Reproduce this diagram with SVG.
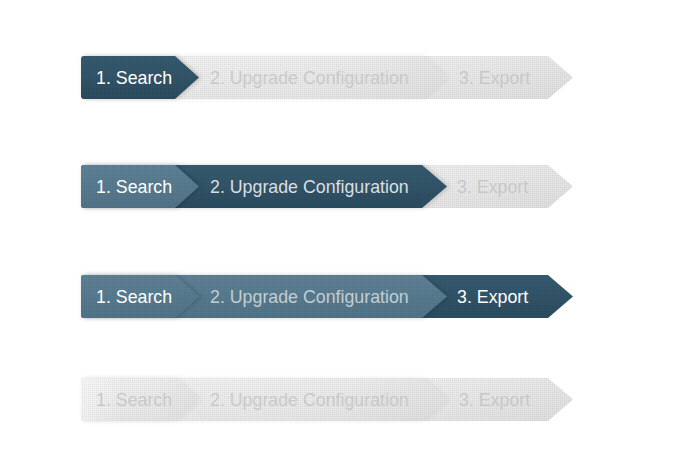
<svg xmlns="http://www.w3.org/2000/svg" width="700" height="476" viewBox="0 0 700 476">
  <defs>
    <pattern id="dots" width="2" height="2" patternUnits="userSpaceOnUse">
      <rect x="0" y="0" width="1" height="1" fill="#000" fill-opacity="0.07"/>
    </pattern>
    <linearGradient id="gGrey" x1="0" y1="0" x2="0" y2="1">
      <stop offset="0" stop-color="#efefef"/>
      <stop offset="1" stop-color="#e6e6e6"/>
    </linearGradient>
    <linearGradient id="gDark" x1="0" y1="0" x2="0" y2="1">
      <stop offset="0" stop-color="#355a6f"/>
      <stop offset="1" stop-color="#2b4c5f"/>
    </linearGradient>
    <linearGradient id="gDone" x1="0" y1="0" x2="0" y2="1">
      <stop offset="0" stop-color="#5d8094"/>
      <stop offset="1" stop-color="#507387"/>
    </linearGradient>
    <linearGradient id="gFadeGrey" x1="0" y1="0" x2="1" y2="0">
      <stop offset="0" stop-color="#ffffff" stop-opacity="0.45"/>
      <stop offset="0.35" stop-color="#ffffff" stop-opacity="0"/>
      <stop offset="1" stop-color="#000000" stop-opacity="0.04"/>
    </linearGradient>
    <filter id="sh" x="-10%" y="-10%" width="130%" height="120%">
      <feDropShadow dx="2" dy="0" stdDeviation="2" flood-color="#000" flood-opacity="0.18"/>
    </filter>
    <filter id="shLight" x="-10%" y="-10%" width="130%" height="120%">
      <feDropShadow dx="2" dy="0" stdDeviation="2" flood-color="#000" flood-opacity="0.07"/>
    </filter>
    <path id="s3" d="M84,0 H548 L573,21.5 L548,43 H84 Q81,43 81,40 V3 Q81,0 84,0 Z"/>
    <path id="s2" d="M84,0 H422 L447,21.5 L422,43 H84 Q81,43 81,40 V3 Q81,0 84,0 Z"/>
    <path id="s1" d="M84,0 H175 L199,21.5 L175,43 H84 Q81,43 81,40 V3 Q81,0 84,0 Z"/>
  </defs>
  <style>
    text { font-family: "Liberation Sans", Arial, sans-serif; font-size: 17.8px; }
    .tActive { fill: #ffffff; }
    .tDone { fill: #d9dfe3; }
    .tDoneDim { fill: #c2cdd4; }
    .tGrey { fill: #c9c9c9; }
    .grey { fill: url(#gGrey); }
    .dark { fill: url(#gDark); }
    .done { fill: url(#gDone); }
    .dots { fill: url(#dots); }
  </style>

  <!-- Row 1: step 1 active -->
  <g id="row1" transform="translate(0,56)">
    <g id="r1-step3">
      <use href="#s3" class="grey"/>
      <use href="#s3" fill="url(#gFadeGrey)"/>
      <use href="#s3" class="dots"/>
      <text x="459" y="27.5" class="tGrey">3. Export</text>
    </g>
    <g id="r1-step2">
      <use href="#s2" class="grey" filter="url(#shLight)"/>
      <use href="#s2" fill="url(#gFadeGrey)"/>
      <use href="#s2" class="dots"/>
      <text x="210" y="27.5" class="tGrey">2. Upgrade Configuration</text>
    </g>
    <g id="r1-step1">
      <use href="#s1" class="dark" filter="url(#sh)"/>
      <use href="#s1" class="dots"/>
      <text x="96" y="27.5" class="tActive">1. Search</text>
    </g>
  </g>

  <!-- Row 2: step 2 active -->
  <g id="row2" transform="translate(0,165)">
    <g id="r2-step3">
      <use href="#s3" class="grey"/>
      <use href="#s3" fill="url(#gFadeGrey)"/>
      <use href="#s3" class="dots"/>
      <text x="457" y="27.5" class="tGrey">3. Export</text>
    </g>
    <g id="r2-step2">
      <use href="#s2" class="dark" filter="url(#sh)"/>
      <use href="#s2" class="dots"/>
      <text x="210" y="27.5" class="tDone">2. Upgrade Configuration</text>
    </g>
    <g id="r2-step1">
      <use href="#s1" class="done" filter="url(#sh)"/>
      <use href="#s1" class="dots"/>
      <text x="96" y="27.5" class="tActive">1. Search</text>
    </g>
  </g>

  <!-- Row 3: step 3 active -->
  <g id="row3" transform="translate(0,275)">
    <g id="r3-step3">
      <use href="#s3" class="dark"/>
      <use href="#s3" class="dots"/>
      <text x="457" y="27.5" class="tActive">3. Export</text>
    </g>
    <g id="r3-step2">
      <use href="#s2" class="done" filter="url(#sh)"/>
      <use href="#s2" class="dots"/>
      <text x="210" y="27.5" class="tDoneDim">2. Upgrade Configuration</text>
    </g>
    <g id="r3-step1">
      <use href="#s1" class="done" filter="url(#sh)"/>
      <use href="#s1" class="dots"/>
      <text x="96" y="27.5" class="tActive">1. Search</text>
    </g>
  </g>

  <!-- Row 4: none active -->
  <g id="row4" transform="translate(0,378)">
    <g id="r4-step3">
      <use href="#s3" class="grey"/>
      <use href="#s3" fill="url(#gFadeGrey)"/>
      <use href="#s3" class="dots"/>
      <text x="459" y="27.5" class="tGrey">3. Export</text>
    </g>
    <g id="r4-step2">
      <use href="#s2" class="grey" filter="url(#shLight)"/>
      <use href="#s2" fill="url(#gFadeGrey)"/>
      <use href="#s2" class="dots"/>
      <text x="210" y="27.5" class="tGrey">2. Upgrade Configuration</text>
    </g>
    <g id="r4-step1">
      <use href="#s1" class="grey" filter="url(#shLight)"/>
      <use href="#s1" fill="url(#gFadeGrey)"/>
      <use href="#s1" class="dots"/>
      <text x="96" y="27.5" class="tGrey">1. Search</text>
    </g>
  </g>

  <g id="connectors"/>
</svg>
